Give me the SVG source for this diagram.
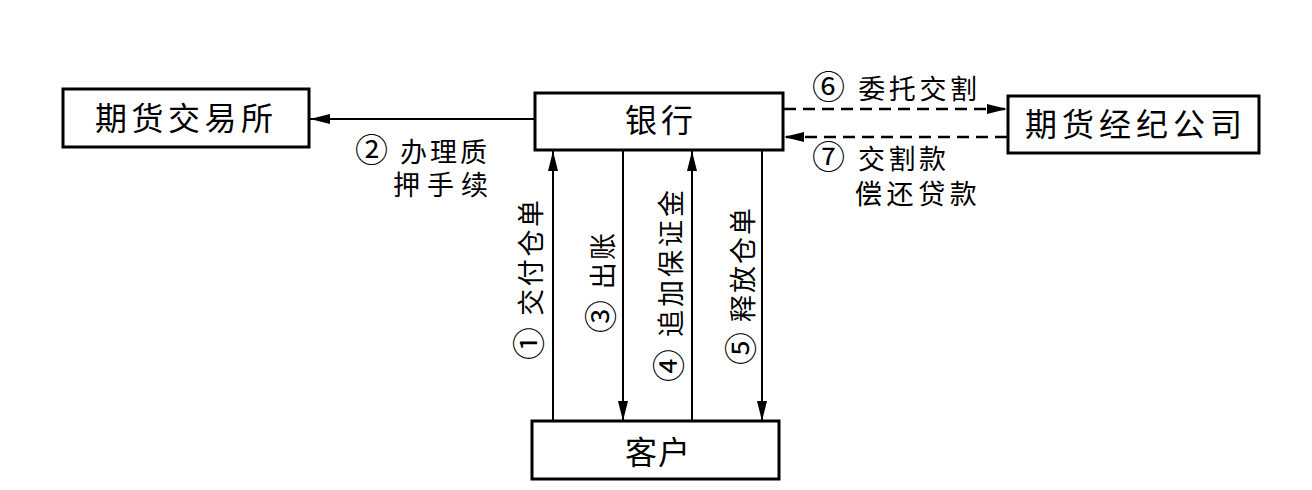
<svg xmlns="http://www.w3.org/2000/svg" width="1312" height="490" viewBox="0 0 1312 490">
<style>
.box{fill:#fff;stroke:#000;stroke-width:3}
.bt{font-family:"Noto Sans CJK SC","Liberation Sans",sans-serif;font-size:32px;fill:#000}
.lb{font-family:"Noto Sans CJK SC","Liberation Sans",sans-serif;font-size:27px;fill:#000}
.cn{font-size:33px}
.ln{stroke:#000;stroke-width:2;fill:none}
.dash{stroke:#000;stroke-width:2.5;fill:none;stroke-dasharray:12 7}
</style>
<defs>
<marker id="ah" viewBox="0 0 20 10" refX="20" refY="5" markerWidth="20" markerHeight="10" markerUnits="userSpaceOnUse" orient="auto">
<path d="M0,0 L20,5 L0,10 Z" fill="#000"/>
</marker>
</defs>
<rect width="1312" height="490" fill="#fff"/>
<g id="connectors">
<line class="ln" x1="535" y1="119" x2="310" y2="119" marker-end="url(#ah)"/>
<line class="dash" x1="784" y1="109" x2="1007" y2="109" marker-end="url(#ah)"/>
<line class="dash" x1="1007" y1="137" x2="784" y2="137" marker-end="url(#ah)"/>
<line class="ln" x1="553" y1="421" x2="553" y2="151" marker-end="url(#ah)"/>
<line class="ln" x1="623" y1="151" x2="623" y2="421" marker-end="url(#ah)"/>
<line class="ln" x1="692" y1="421" x2="692" y2="151" marker-end="url(#ah)"/>
<line class="ln" x1="762" y1="151" x2="762" y2="421" marker-end="url(#ah)"/>
</g>
<g id="exchange">
<rect class="box" x="63" y="89" width="246" height="58"/>
<text class="bt" x="95" y="130" textLength="178" lengthAdjust="spacing">期货交易所</text>
</g>
<g id="bank">
<rect class="box" x="535" y="93" width="248" height="57"/>
<text class="bt" x="625" y="132" textLength="68" lengthAdjust="spacing">银行</text>
</g>
<g id="broker">
<rect class="box" x="1008" y="96" width="251" height="57"/>
<text class="bt" x="1025" y="136" textLength="217" lengthAdjust="spacing">期货经纪公司</text>
</g>
<g id="client">
<rect class="box" x="532" y="421" width="247" height="58"/>
<text class="bt" x="625" y="464" textLength="65" lengthAdjust="spacing">客户</text>
</g>
<g id="labels">
<text class="lb"><tspan x="355" y="162" letter-spacing="3"><tspan class="cn">②</tspan> 办理质</tspan><tspan x="393" y="195" letter-spacing="7">押手续</tspan></text>
<text class="lb" x="812" y="99" textLength="165" lengthAdjust="spacing"><tspan class="cn">⑥</tspan> 委托交割</text>
<text class="lb"><tspan x="812" y="169" letter-spacing="3.5"><tspan class="cn">⑦</tspan> 交割款</tspan><tspan x="855" y="204" letter-spacing="4.6">偿还贷款</tspan></text>
<text class="lb" transform="translate(541,360) rotate(-90)" textLength="160" lengthAdjust="spacing"><tspan class="cn">①</tspan> 交付仓单</text>
<text class="lb" transform="translate(613,333) rotate(-90)" textLength="100" lengthAdjust="spacing"><tspan class="cn">③</tspan> 出账</text>
<text class="lb" transform="translate(681,382) rotate(-90)" textLength="192" lengthAdjust="spacing"><tspan class="cn">④</tspan> 追加保证金</text>
<text class="lb" transform="translate(753,365) rotate(-90)" textLength="157" lengthAdjust="spacing"><tspan class="cn">⑤</tspan> 释放仓单</text>
</g>
</svg>
